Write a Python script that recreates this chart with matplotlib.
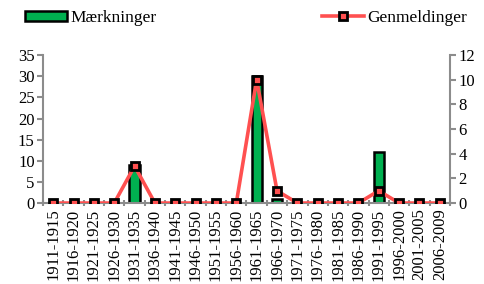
import matplotlib.pyplot as plt
from matplotlib.patches import Patch
from matplotlib.lines import Line2D

periods = ["1911-1915", "1916-1920", "1921-1925", "1926-1930", "1931-1935",
           "1936-1940", "1941-1945", "1946-1950", "1951-1955", "1956-1960",
           "1961-1965", "1966-1970", "1971-1975", "1976-1980", "1981-1985",
           "1986-1990", "1991-1995", "1996-2000", "2001-2005", "2006-2009"]
maerkninger = [0, 0, 0, 0, 9, 0, 0, 0, 0, 0, 30, 1, 0, 0, 0, 0, 12, 0, 0, 0]
genmeldinger = [0, 0, 0, 0, 3, 0, 0, 0, 0, 0, 10, 1, 0, 0, 0, 0, 1, 0, 0, 0]

plt.rcParams["font.family"] = ["Liberation Serif", "DejaVu Serif"]

GREEN = "#00b050"
RED = "#ff5050"
GRAY = "#8c8c8c"

fig = plt.figure(figsize=(4.85, 2.84), dpi=100)
ax = fig.add_axes([0.0887, 0.285, 0.839, 0.521])
x = list(range(len(periods)))

ax.bar(x, maerkninger, width=0.5, color=GREEN, edgecolor="black", linewidth=1.8, zorder=2)
ax.set_xlim(-0.5, len(periods) - 0.5)
ax.set_ylim(0, 35)
ax.set_yticks(range(0, 36, 5))

ax2 = ax.twinx()
ax2.plot(x, genmeldinger, color=RED, linewidth=2.6, marker="s", markersize=5.5,
         markerfacecolor=RED, markeredgecolor="black", markeredgewidth=2.0, zorder=3)
ax2.set_ylim(0, 12)
ax2.set_yticks(range(0, 13, 2))

for a in (ax, ax2):
    for s in a.spines.values():
        s.set_visible(False)
    a.tick_params(axis="y", labelsize=12, color=GRAY, width=1.5, length=4, pad=2)
ax.spines["left"].set_visible(True)
ax.spines["left"].set_color(GRAY)
ax.spines["left"].set_linewidth(1.5)
ax2.spines["right"].set_visible(True)
ax2.spines["right"].set_color(GRAY)
ax2.spines["right"].set_linewidth(1.5)
ax.spines["bottom"].set_visible(True)
ax.spines["bottom"].set_color(GRAY)
ax.spines["bottom"].set_linewidth(1.5)

ax.set_xticks([i - 0.5 for i in range(len(periods) + 1)])
ax.set_xticklabels([])
ax.tick_params(axis="x", color=GRAY, width=1.5, length=4, direction="inout")
ax.set_xticks(x, minor=True)
ax.set_xticklabels(periods, minor=True, rotation=90, fontsize=12)
ax.tick_params(axis="x", which="minor", length=0, pad=4)

bar_handle = Patch(facecolor=GREEN, edgecolor="black", linewidth=1.8)
line_handle = Line2D([], [], color=RED, linewidth=2.6, marker="s", markersize=5.5,
                     markerfacecolor=RED, markeredgecolor="black", markeredgewidth=2.0)
fig.legend([bar_handle], ["Mærkninger"], loc="upper left", bbox_to_anchor=(0.02, 1.02),
           frameon=False, fontsize=12.5, handlelength=2.4, handleheight=0.5, handletextpad=0.2)
fig.legend([line_handle], ["Genmeldinger"], loc="upper right", bbox_to_anchor=(0.995, 1.02),
           frameon=False, fontsize=12.5, handlelength=2.4, handletextpad=0.2)

fig.savefig("out.png", dpi=100)
